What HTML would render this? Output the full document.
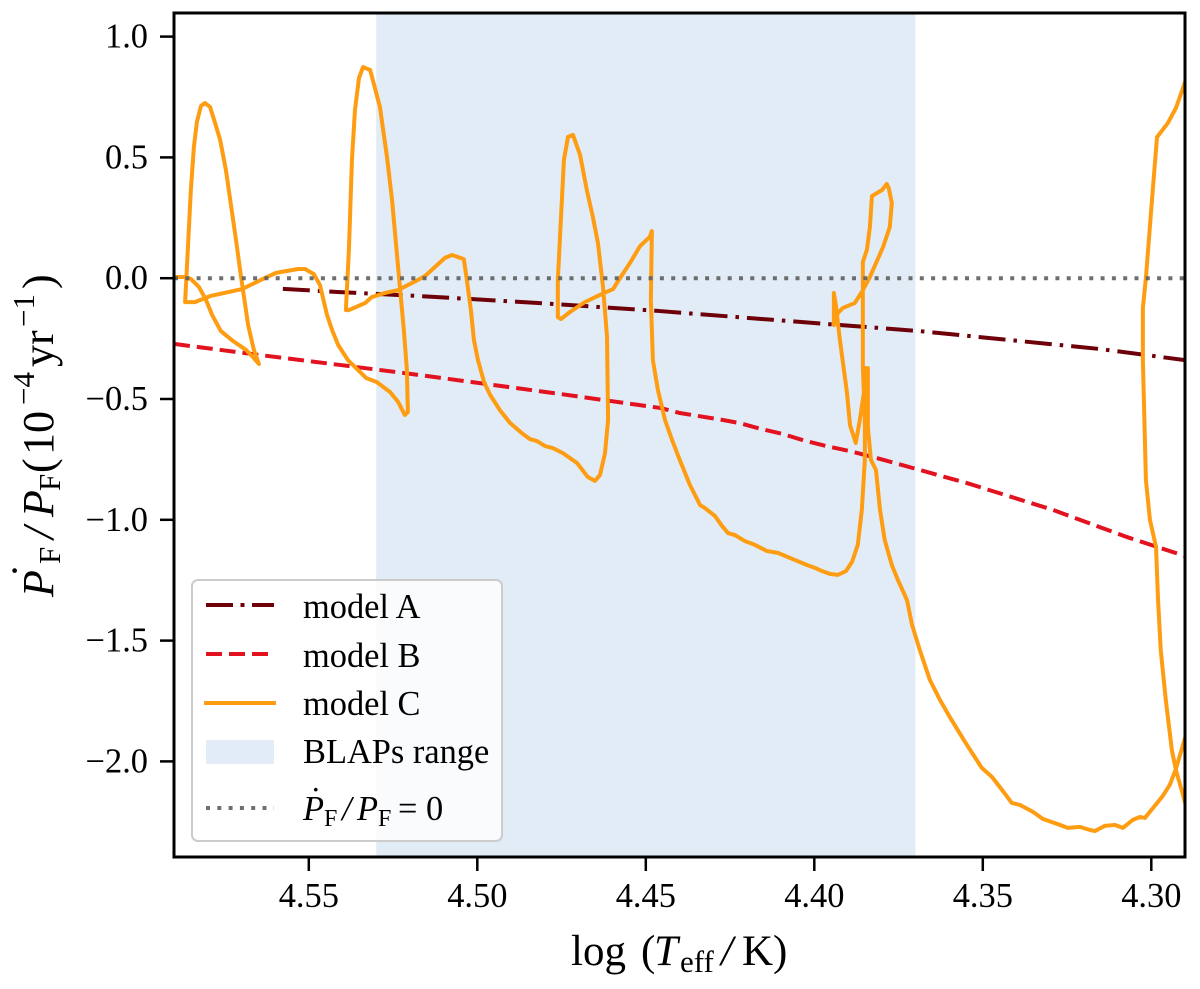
<!DOCTYPE html>
<html>
<head>
<meta charset="utf-8">
<title>Period change rate versus effective temperature</title>
<style>
html,body{margin:0;padding:0;background:#fff;}
svg{display:block;}
text{font-family:"Liberation Serif","DejaVu Serif",serif;fill:#000;}
</style>
</head>
<body>
<svg id="chart" xmlns="http://www.w3.org/2000/svg" width="1200" height="989" viewBox="0 0 1200 989">
  <defs><clipPath id="plot-clip"><rect x="174" y="13" width="1011" height="844"/></clipPath></defs>
  <rect x="0" y="0" width="1200" height="989" fill="#ffffff"/>
  <g id="marks" clip-path="url(#plot-clip)"></g>
  <rect x="174" y="13" width="1011" height="844" fill="none" stroke="#000" stroke-width="3"/>
  <g id="ticks"></g>

  <g>
    <text x="571" y="965" font-size="43">log</text>
    <text x="641" y="965" font-size="43">(</text>
    <text x="654" y="965" font-size="43" font-style="italic">T</text>
    <text x="680" y="972" font-size="31">eff</text>
    <text x="721" y="965" font-size="43" font-style="italic">/</text>
    <text x="742" y="965" font-size="43">K</text>
    <text x="773" y="965" font-size="43">)</text>
  </g>

  <g transform="translate(53,597) rotate(-90)">
    <text x="0" y="0" font-size="44" font-style="italic">P</text>
    <text x="19" y="-11" font-size="44">˙</text>
    <text x="33" y="7" font-size="31">F</text>
    <text x="58" y="0" font-size="44" font-style="italic">/</text>
    <text x="80" y="0" font-size="44" font-style="italic">P</text>
    <text x="106" y="7" font-size="31">F</text>
    <text x="124" y="0" font-size="44">(</text>
    <text x="142" y="0" font-size="44">10</text>
    <text x="192" y="-19" font-size="31">−4</text>
    <text x="230" y="0" font-size="44">yr</text>
    <text x="270" y="-19" font-size="31">−1</text>
    <text x="308" y="0" font-size="44">)</text>
  </g>

  <g>
    <rect x="192" y="580" width="310" height="261" rx="6" fill="#ffffff" fill-opacity="0.8" stroke="#cccccc" stroke-width="2"/>
    <g>
      <line x1="206" y1="605" x2="274" y2="605" stroke="#6e0009" stroke-width="4" stroke-dasharray="27 7.5 4 7.5"/>
      <text x="303" y="618" font-size="34.4">model A</text>
    </g>
    <g>
      <line x1="206" y1="654" x2="274" y2="654" stroke="#e3121f" stroke-width="4" stroke-dasharray="16 7"/>
      <text x="303" y="667" font-size="34.4">model B</text>
    </g>
    <g>
      <line x1="204" y1="703" x2="276" y2="703" stroke="#fe9c12" stroke-width="4"/>
      <text x="303" y="715" font-size="34.4">model C</text>
    </g>
    <g>
      <rect x="206" y="740" width="68" height="24" fill="#e1ecf6"/>
      <text x="303" y="763" font-size="34.4">BLAPs range</text>
    </g>
    <g>
      <line x1="206" y1="808" x2="274" y2="808" stroke="#6f6f6f" stroke-width="4" stroke-dasharray="4 7.3"/>
      <text x="303" y="820" font-size="34.4" font-style="italic">P</text>
      <text x="310" y="811" font-size="34.4">˙</text>
      <text x="324" y="826" font-size="24">F</text>
      <text x="342" y="820" font-size="34.4" font-style="italic">/</text>
      <text x="357" y="820" font-size="34.4" font-style="italic">P</text>
      <text x="378" y="826" font-size="24">F</text>
      <text x="398" y="820" font-size="34.4">=</text>
      <text x="426" y="820" font-size="34.4">0</text>
    </g>
  </g>
</svg>
<script>
const xTicks = [4.55, 4.50, 4.45, 4.40, 4.35, 4.30];
const xTickLabels = ["4.55", "4.50", "4.45", "4.40", "4.35", "4.30"];
const yTicks = [1.0, 0.5, 0.0, -0.5, -1.0, -1.5, -2.0];
const yTickLabels = ["1.0", "0.5", "0.0", "−0.5", "−1.0", "−1.5", "−2.0"];
const blapsRange = [4.53, 4.37];
const zeroLevel = 0;

const modelATemp = [4.5577,4.5416,4.5170,4.4814,4.4458,4.4043,4.3687,4.3153,4.29];
const modelAPdot = [-0.044,-0.057,-0.074,-0.103,-0.136,-0.181,-0.219,-0.293,-0.339];

const modelBTemp = [4.59,4.5645,4.5408,4.5170,4.4755,4.4458,4.4399,4.4271,4.4224,4.4158,4.4093,4.4025,4.3963,4.3894,4.3805,4.3547,4.3292,4.3161,4.3073,4.29];
const modelBPdot = [-0.272,-0.318,-0.359,-0.401,-0.479,-0.537,-0.558,-0.587,-0.599,-0.624,-0.645,-0.674,-0.695,-0.716,-0.748,-0.848,-0.959,-1.026,-1.071,-1.150];

const modelCTemp = [
4.590,4.5867,4.5850,4.5826,4.5805,4.5787,4.5761,4.5725,4.5686,4.5666,4.5648,4.5663,4.5680,4.5701,4.5716,4.5731,4.5746,4.5763,4.5778,4.5793,
4.5808,4.5820,4.5832,4.5841,4.5850,4.5861,4.5867,4.5838,4.5793,4.5698,4.5630,4.5597,4.5532,4.5511,4.5485,4.5467,4.5446,4.5431,4.5413,4.5384,
4.5348,4.5330,4.5298,4.5259,4.5235,4.5215,4.5206,4.5209,4.5218,4.5235,4.5253,4.5268,4.5289,4.5318,4.5339,4.5351,4.5363,4.5372,4.5381,4.5390,
4.5381,4.5333,4.5313,4.5274,4.5235,4.5176,4.5155,4.5096,4.5075,4.5040,4.5031,4.5019,4.5010,4.4998,4.4980,4.4962,4.4933,4.4903,4.4868,4.4844,
4.4823,4.4799,4.4776,4.4746,4.4704,4.4672,4.4651,4.4636,4.4621,4.4612,4.4615,4.4627,4.4642,4.4657,4.4675,4.4695,4.4716,4.4731,4.4743,4.4749,
4.4761,4.4761,4.4752,4.4725,4.4681,4.4630,4.4597,4.4586,4.4547,4.4517,4.4488,4.4482,4.4485,4.4479,4.4464,4.4443,4.4422,4.4399,4.4369,4.4339,
4.4325,4.4295,4.4274,4.4256,4.4236,4.4206,4.4176,4.4141,4.4108,4.4058,4.4022,4.3998,4.3977,4.3954,4.3930,4.3906,4.3888,4.3871,4.3859,4.3850,
4.3850,4.3856,4.3856,4.3844,4.3835,4.3829,4.3799,4.3785,4.3779,4.3770,4.3776,4.3796,4.3835,4.3859,4.3880,4.3915,4.3930,4.3942,4.3942,4.3936,
4.3924,4.3903,4.3894,4.3877,4.3865,4.3853,4.3847,4.3841,4.3841,4.3832,4.3817,4.3805,4.3791,4.3770,4.3752,4.3725,4.3710,4.3687,4.3657,4.3627,
4.3598,4.3553,4.3503,4.3473,4.3443,4.3414,4.3390,4.3351,4.3322,4.3271,4.3248,4.3212,4.3182,4.3167,4.3138,4.3108,4.3084,4.3055,4.3034,4.3019,
4.2995,4.2966,4.2945,4.2927,4.2906,4.2886,4.2886,4.2906,4.2927,4.2939,4.2957,4.2972,4.2980,4.2986,4.3004,4.3016,4.3019,4.3025,4.3025,4.3016,
4.2995,4.2983,4.2951,4.2927,4.2906,4.2886];
const modelCPdot = [
0.005,0.005,-0.003,-0.036,-0.090,-0.152,-0.219,-0.260,-0.297,-0.326,-0.355,-0.297,-0.194,0.005,0.158,0.303,0.448,0.572,0.642,0.709,
0.725,0.713,0.647,0.543,0.365,0.063,-0.099,-0.099,-0.074,-0.045,0.001,0.022,0.038,0.038,0.017,-0.028,-0.152,-0.214,-0.276,-0.339,
-0.388,-0.413,-0.430,-0.471,-0.512,-0.566,-0.554,-0.380,-0.214,0.046,0.324,0.502,0.709,0.862,0.874,0.829,0.696,0.489,0.117,-0.132,
-0.132,-0.103,-0.078,-0.061,-0.049,-0.007,0.009,0.084,0.096,0.079,-0.007,-0.132,-0.256,-0.339,-0.430,-0.483,-0.546,-0.599,-0.641,-0.666,
-0.674,-0.695,-0.703,-0.724,-0.765,-0.823,-0.839,-0.815,-0.724,-0.587,-0.243,-0.036,0.146,0.253,0.365,0.510,0.593,0.585,0.489,0.324,
-0.007,-0.161,-0.169,-0.140,-0.099,-0.065,-0.045,-0.020,0.063,0.133,0.171,0.195,-0.090,-0.339,-0.463,-0.587,-0.670,-0.753,-0.856,-0.939,
-0.951,-0.984,-1.025,-1.055,-1.063,-1.088,-1.104,-1.129,-1.137,-1.166,-1.187,-1.199,-1.212,-1.224,-1.228,-1.212,-1.174,-1.104,-0.959,-0.752,
-0.587,-0.367,0.067,0.117,0.212,0.340,0.365,0.390,0.373,0.311,0.212,0.129,0.005,-0.057,-0.103,-0.123,-0.144,-0.194,-0.061,-0.111,
-0.256,-0.475,-0.608,-0.682,-0.587,-0.475,-0.372,-0.372,-0.616,-0.752,-0.794,-0.959,-1.084,-1.187,-1.249,-1.332,-1.435,-1.539,-1.663,-1.746,
-1.816,-1.919,-2.027,-2.064,-2.118,-2.172,-2.180,-2.209,-2.238,-2.263,-2.275,-2.271,-2.284,-2.288,-2.267,-2.263,-2.275,-2.242,-2.230,-2.234,
-2.193,-2.143,-2.097,-2.031,-1.932,-1.837,-2.243,-2.139,-2.035,-1.953,-1.746,-1.539,-1.332,-1.112,-1.001,-0.835,-0.670,-0.339,-0.123,0.001,
0.377,0.584,0.642,0.704,0.787,0.870];

const SVG_NS = "http://www.w3.org/2000/svg";
const marks = document.getElementById("marks");
const ticksGroup = document.getElementById("ticks");

function xScale(v) { return 174 + (4.59 - v) * (1011 / 0.30); }
function yScale(v) { return 278.2 - v * 241.6; }
function polyPoints(xs, ys) {
  return xs.map(function (x, i) { return xScale(x).toFixed(2) + "," + yScale(ys[i]).toFixed(2); }).join(" ");
}

const band = document.createElementNS(SVG_NS, "rect");


band.setAttribute("x", xScale(blapsRange[0]));
band.setAttribute("y", 13);
band.setAttribute("width", xScale(blapsRange[1]) - xScale(blapsRange[0]));
band.setAttribute("height", 844);
band.setAttribute("fill", "#e1ecf6");
marks.appendChild(band);

const lineA = document.createElementNS(SVG_NS, "polyline");


lineA.setAttribute("points", polyPoints(modelATemp, modelAPdot));
lineA.setAttribute("fill", "none");
lineA.setAttribute("stroke", "#6e0009");
lineA.setAttribute("stroke-width", "4");
lineA.setAttribute("stroke-dasharray", "27 8 3.5 8");
marks.appendChild(lineA);

const lineB = document.createElementNS(SVG_NS, "polyline");


lineB.setAttribute("points", polyPoints(modelBTemp, modelBPdot));
lineB.setAttribute("fill", "none");
lineB.setAttribute("stroke", "#e3121f");
lineB.setAttribute("stroke-width", "4");
lineB.setAttribute("stroke-dasharray", "16 7");
marks.appendChild(lineB);

const lineC = document.createElementNS(SVG_NS, "polyline");


lineC.setAttribute("points", polyPoints(modelCTemp, modelCPdot));
lineC.setAttribute("fill", "none");
lineC.setAttribute("stroke", "#fe9c12");
lineC.setAttribute("stroke-width", "4");
lineC.setAttribute("stroke-linejoin", "round");
lineC.setAttribute("stroke-linecap", "round");
marks.appendChild(lineC);

const zeroLine = document.createElementNS(SVG_NS, "line");


zeroLine.setAttribute("x1", 174);
zeroLine.setAttribute("x2", 1185);
zeroLine.setAttribute("y1", yScale(zeroLevel));
zeroLine.setAttribute("y2", yScale(zeroLevel));
zeroLine.setAttribute("stroke", "#5f5f5f");
zeroLine.setAttribute("stroke-opacity", "0.9");
zeroLine.setAttribute("stroke-width", "4");
zeroLine.setAttribute("stroke-dasharray", "4 7.3");
marks.appendChild(zeroLine);

xTicks.forEach(function (v, i) {
  const t = document.createElementNS(SVG_NS, "line");
  
  
  t.setAttribute("x1", xScale(v));
  t.setAttribute("x2", xScale(v));
  t.setAttribute("y1", 857);
  t.setAttribute("y2", 871);
  t.setAttribute("stroke", "#000");
  t.setAttribute("stroke-width", "2.5");
  ticksGroup.appendChild(t);
  const l = document.createElementNS(SVG_NS, "text");
  
  
  l.setAttribute("x", xScale(v));
  l.setAttribute("y", 907);
  l.setAttribute("text-anchor", "middle");
  l.setAttribute("font-size", "34.4");
  l.textContent = xTickLabels[i];
  ticksGroup.appendChild(l);
});

yTicks.forEach(function (v, i) {
  const t = document.createElementNS(SVG_NS, "line");
  
  
  t.setAttribute("x1", 160);
  t.setAttribute("x2", 174);
  t.setAttribute("y1", yScale(v));
  t.setAttribute("y2", yScale(v));
  t.setAttribute("stroke", "#000");
  t.setAttribute("stroke-width", "2.5");
  ticksGroup.appendChild(t);
  const l = document.createElementNS(SVG_NS, "text");
  
  
  l.setAttribute("x", 148);
  l.setAttribute("y", yScale(v) + 11);
  l.setAttribute("text-anchor", "end");
  l.setAttribute("font-size", "34.4");
  l.textContent = yTickLabels[i];
  ticksGroup.appendChild(l);
});
</script>
</body>
</html>
